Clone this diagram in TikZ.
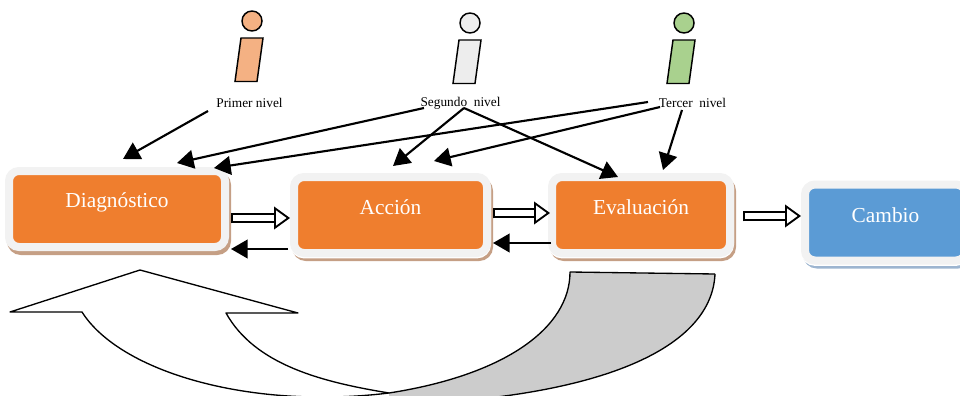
\documentclass[tikz,border=0pt]{standalone}
\usepackage{fontspec}
\setmainfont{Liberation Serif}
\usetikzlibrary{arrows.meta}
\definecolor{boxorange}{RGB}{239,126,46}
\definecolor{boxblue}{RGB}{91,155,213}
\definecolor{boxframe}{RGB}{242,242,242}
\definecolor{shadeorange}{RGB}{197,159,133}
\definecolor{shadeblue}{RGB}{157,181,208}
\definecolor{skinorange}{RGB}{244,177,131}
\definecolor{skingrey}{RGB}{237,237,237}
\definecolor{skingreen}{RGB}{169,209,142}
\definecolor{loopgrey}{RGB}{204,204,204}
\tikzset{
  levelbox/.style 2 args={rounded corners=7.5pt,fill=#1,draw=boxframe,line width=6pt,text=white,font=\fontsize{16}{18}\selectfont,
    minimum height=57pt,text height=10pt,text depth=11.5pt,inner sep=0pt,
    preaction={draw=#2,fill=#2,transform canvas={xshift=1.5pt,yshift=-3pt}}},
  gapline/.style={preaction={draw=white,transform canvas={yshift=-1pt}}},
  levellabel/.style={font=\fontsize{10}{12}\selectfont,inner sep=0pt},
  feedback/.style={line width=1.6pt,-{Triangle[length=12.5pt,width=14pt]}},
  hollowlink/.style={line width=1.4pt,double=white,double distance=5.2pt,
    {Bar[width=8pt,line width=1.4pt,sep=0pt]}-{Triangle[length=12pt,width=17pt,fill=white,line width=1.4pt]}},
  person/.style={line width=1.1pt,draw=black},
  loopline/.style={line width=1pt,line join=round}
}
\begin{document}
\begin{tikzpicture}[x=0.75pt,y=0.75pt,yscale=-1,xscale=1]
  \useasboundingbox (0,0) rectangle (960,396);
  % people
  \foreach \px/\py/\skin in {252/21/skinorange,470/23/skingrey,684/23/skingreen}{
    \draw[person,fill=\skin] (\px,\py) circle (10);
    \draw[person,fill=\skin] (\px-11,\py+17) -- (\px+11,\py+17) -- (\px+5,\py+60.5) -- (\px-17,\py+60.5) -- cycle;
  }
  \node[levellabel] (primer) at (249.5,103) {Primer nivel};
  \node[levellabel] (segundo) at (460.5,103) {Segundo\ \ nivel};
  \node[levellabel] (tercer) at (692.5,103) {Tercer\ \ nivel};
  % boxes
  \node[levelbox={boxorange}{shadeorange},minimum width=162pt,text depth=12.5pt] (diag) at (117,209) {Diagnóstico};
  \node[levelbox={boxorange}{shadeorange},gapline,minimum width=144.75pt] (accion) at (390.5,215) {Acción};
  \node[levelbox={boxorange}{shadeorange},gapline,minimum width=133.5pt] (eval) at (641,215) {Evaluación};
  \node[levelbox={boxblue}{shadeblue},gapline,minimum width=120.75pt,text depth=10pt] (cambio) at (885.5,222.5) {Cambio};
  % levels to boxes
  \draw[feedback] ([shift={(-41.5,8)}]primer.center) -- ([shift={(6,-50)}]diag.center);
  \draw[feedback] ([shift={(-36.5,5)}]segundo.center) -- ([shift={(60,-46)}]diag.center);
  \draw[feedback] ([shift={(3.5,5)}]segundo.center) -- ([shift={(2.5,-49)}]accion.center);
  \draw[feedback] ([shift={(3.5,5)}]segundo.center) -- ([shift={(-23,-38)}]eval.center);
  \draw[feedback] ([shift={(-44.5,-1)}]tercer.center) -- ([shift={(97,-41)}]diag.center);
  \draw[feedback] ([shift={(-32.5,4)}]tercer.center) -- ([shift={(43.5,-54)}]accion.center);
  \draw[feedback] ([shift={(-10.5,7)}]tercer.center) -- ([shift={(22,-45)}]eval.center);
  % between boxes
  \draw[hollowlink] ([shift={(2,9)}]diag.east) -- ([shift={(0,3)}]accion.west);
  \draw[hollowlink] ([shift={(2,-2)}]accion.east) -- ([shift={(2,-2)}]eval.west);
  \draw[hollowlink] ([shift={(9,1)}]eval.east) -- ([shift={(0,-6.5)}]cambio.west);
  \draw[feedback] ([shift={(-2,34)}]accion.west) -- ([shift={(2,40)}]diag.east);
  \draw[feedback] ([shift={(3,28)}]eval.west) -- ([shift={(2,28)}]accion.east);
  % curved arrow
  \fill[loopgrey] (570,272) -- (715,274) .. controls (712,340) and (625,385) .. (470,400) -- (389,400) -- (389,393) .. controls (505,375) and (570,328) .. (570,272);
  \draw[loopline] (715,274) -- (570,272) .. controls (570,328) and (505,375) .. (389,393);
  \draw[loopline] (715,274) .. controls (712,340) and (625,385) .. (470,400);
  \draw[loopline] (389,393) .. controls (250,410) and (120,372) .. (82,312) -- (10,312) -- (140,270) -- (298,313) -- (226,313) .. controls (255,365) and (322,382) .. (389,393);
\end{tikzpicture}
\end{document}
